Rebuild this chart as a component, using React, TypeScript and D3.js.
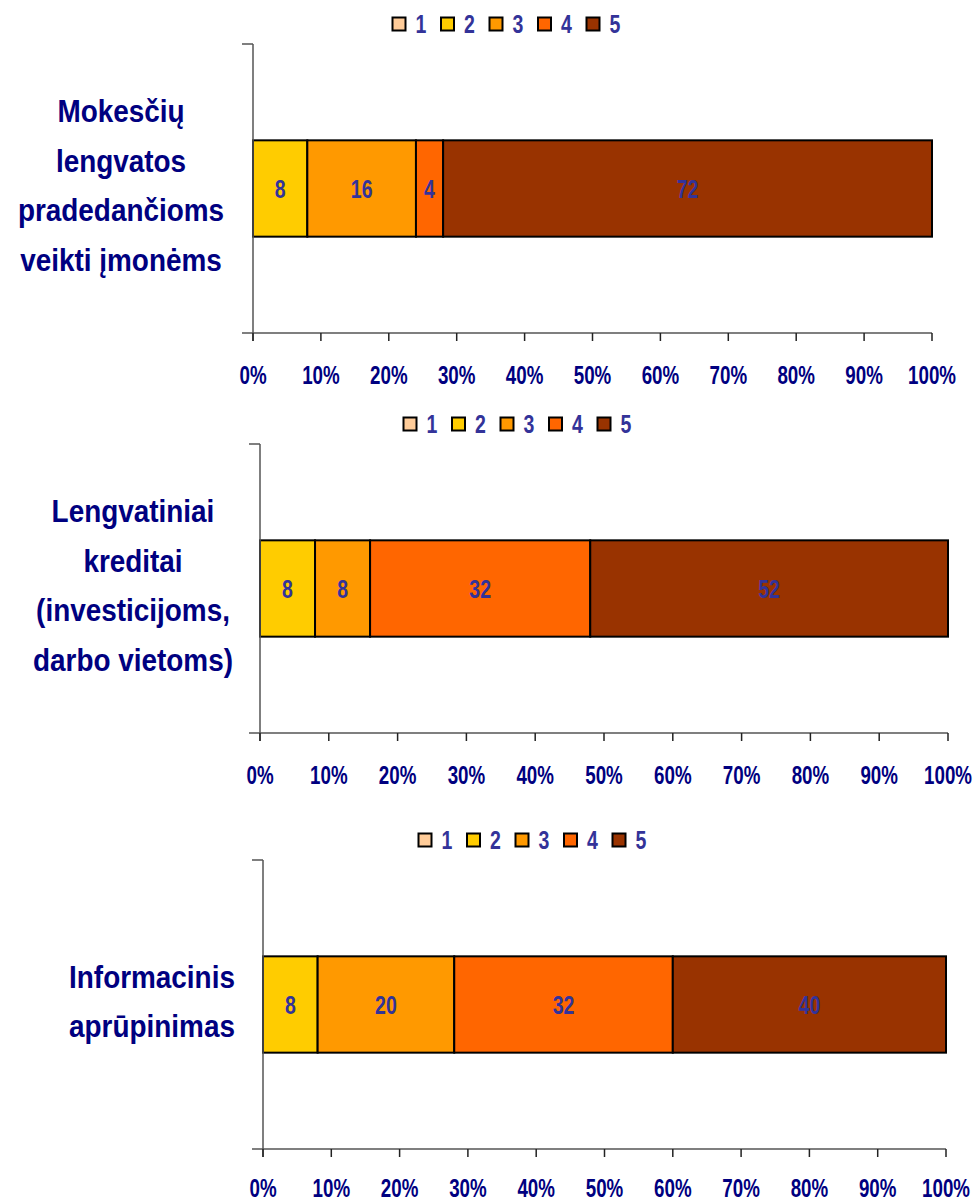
import React from "react";
import * as d3 from "d3";

const seriesNames = ["1", "2", "3", "4", "5"];
const seriesColors = ["#FFCC99", "#FFCC00", "#FF9900", "#FF6600", "#993300"];
const tickValues = [0, 10, 20, 30, 40, 50, 60, 70, 80, 90, 100];

const categories = [
  ["Mokesčių", "lengvatos", "pradedančioms", "veikti įmonėms"],
  ["Lengvatiniai", "kreditai", "(investicijoms,", "darbo vietoms)"],
  ["Informacinis", "aprūpinimas"],
];

const values1 = [0, 8, 16, 4, 72];
const values2 = [0, 8, 8, 32, 52];
const values3 = [0, 8, 20, 32, 40];
const panelValues = [values1, values2, values3];

const layouts = [
  { x0: 253, x1: 932, yTop: 44, yBot: 333, legendX: 391, legendY: 24, labelX: 121, tickDy: 51 },
  { x0: 260, x1: 948, yTop: 444, yBot: 733, legendX: 402, legendY: 424, labelX: 133, tickDy: 51 },
  { x0: 263, x1: 946, yTop: 860, yBot: 1149, legendX: 417, legendY: 840, labelX: 152, tickDy: 48 },
];

const FONT = "'Liberation Sans', Arial, sans-serif";

function NText({
  x,
  y,
  size,
  sx,
  fill,
  children,
}: {
  x: number;
  y: number;
  size: number;
  sx: number;
  fill: string;
  children: React.ReactNode;
}) {
  return (
    <text
      transform={`translate(${x},${y}) scale(${sx},1)`}
      textAnchor="middle"
      fill={fill}
      fontFamily={FONT}
      fontWeight="bold"
      fontSize={size}
    >
      {children}
    </text>
  );
}

function Panel({ idx }: { idx: number }) {
  const L = layouts[idx];
  const vals = panelValues[idx];
  const lines = categories[idx];
  const x = d3.scaleLinear().domain([0, 100]).range([L.x0, L.x1]);
  const y = d3.scaleBand().domain(["c"]).range([L.yTop, L.yBot]).paddingInner(0).paddingOuter(1);
  const row: Record<string, number> = {};
  seriesNames.forEach((s, i) => (row[s] = vals[i]));
  const stacked = d3.stack<Record<string, number>>().keys(seriesNames)([row]);
  const by = y("c") as number;
  const bh = y.bandwidth();
  const cy = by + bh / 2;
  const lineGap = 49.5;
  return (
    <g>
      {/* legend */}
      {seriesNames.map((s, i) => (
        <g key={s} transform={`translate(${L.legendX + i * 48.5},${L.legendY})`}>
          <rect x={1.5} y={-6.5} width={13} height={13} fill={seriesColors[i]} stroke="#000" strokeWidth={2} />
          <NText x={30} y={9} size={25} sx={0.78} fill="#333399">
            {s}
          </NText>
        </g>
      ))}
      {/* category label */}
      {lines.map((t, i) => (
        <NText
          key={i}
          x={L.labelX}
          y={cy - 3 - ((lines.length - 1) / 2) * lineGap + i * lineGap + 11}
          size={31}
          sx={0.9}
          fill="#000080"
        >
          {t}
        </NText>
      ))}
      {/* bars */}
      {stacked.map((layer, i) =>
        layer.map((d, j) =>
          d[1] - d[0] > 0 ? (
            <rect
              key={`${i}-${j}`}
              x={x(d[0])}
              y={by}
              width={x(d[1]) - x(d[0])}
              height={bh}
              fill={seriesColors[i]}
              stroke="#000"
              strokeWidth={2}
            />
          ) : null
        )
      )}
      {stacked.map((layer, i) =>
        layer.map((d, j) =>
          d[1] - d[0] > 0 ? (
            <NText key={`t${i}-${j}`} x={(x(d[0]) + x(d[1])) / 2} y={cy + 9} size={25} sx={0.78} fill="#333399">
              {d[1] - d[0]}
            </NText>
          ) : null
        )
      )}
      {/* axes */}
      <line x1={L.x0} x2={L.x0} y1={L.yTop} y2={L.yBot + 8} stroke="#555" strokeWidth={1.5} />
      <line x1={L.x0 - 11} x2={L.x0} y1={L.yTop} y2={L.yTop} stroke="#555" strokeWidth={1.5} />
      <line x1={L.x0 - 11} x2={L.x1} y1={L.yBot} y2={L.yBot} stroke="#555" strokeWidth={1.5} />
      {tickValues.map((t) => (
        <g key={t}>
          <line x1={x(t)} x2={x(t)} y1={L.yBot} y2={L.yBot + 8} stroke="#222" strokeWidth={1.5} />
          <NText x={x(t)} y={L.yBot + L.tickDy} size={25} sx={0.75} fill="#000080">
            {`${t}%`}
          </NText>
        </g>
      ))}
    </g>
  );
}

export default function App() {
  return (
    <svg
      width={976}
      height={1203}
      style={{ position: "absolute", left: 0, top: 0, background: "#fff" }}
    >
      <rect width={976} height={1203} fill="#fff" />
      {[0, 1, 2].map((i) => (
        <Panel key={i} idx={i} />
      ))}
    </svg>
  );
}
